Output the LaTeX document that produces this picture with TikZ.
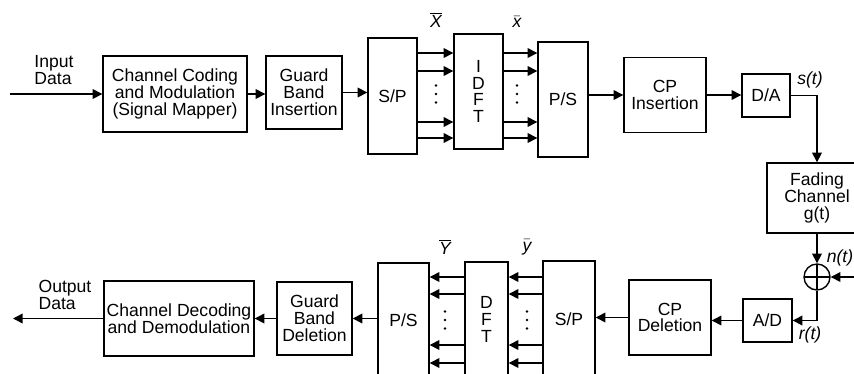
\documentclass[tikz,border=0pt]{standalone}
\usepackage{amsmath}
\usepackage{fontspec}
\setmainfont{Liberation Sans}
\usepackage{tikz}
\usetikzlibrary{positioning,arrows.meta}

\begin{document}
\begin{tikzpicture}[
    x=0.02cm, y=-0.02cm,
    >={Triangle[length=5.5pt,width=5.5pt]},
    font=\fontsize{10}{9.6}\selectfont,
    block/.style={rectangle, draw=black, line width=0.8pt, align=center, inner sep=1pt},
    arrow/.style={->, line width=0.8pt, draw=black},
    sig/.style={font=\fontsize{10}{10}\selectfont\itshape, inner sep=1pt},
    tag/.style={align=left, inner sep=1pt}
]

% Frame
\useasboundingbox (0,0) rectangle (854,373);
\clip (0,0) rectangle (854,373);

% Row 1: Transmitter
\node[block, minimum width=2.88cm, minimum height=1.52cm] (ccm) at (175,94) {Channel Coding\\and Modulation\\(Signal Mapper)};
\node[block, minimum width=1.52cm, minimum height=1.46cm] (gbi) at (304,92.5) {Guard\\Band\\Insertion};
\node[block, minimum width=0.98cm, minimum height=2.32cm] (sp1) at (392.5,96) {S/P};
\node[block, minimum width=0.98cm, minimum height=2.30cm] (idft) at (478.5,91.5) {I\\D\\F\\T};
\node[block, minimum width=1.0cm, minimum height=2.30cm] (ps1) at (563,99.5) {P/S};
\node[block, minimum width=1.64cm, minimum height=1.5cm] (cpi) at (665,95) {CP\\Insertion};
\node[block, minimum width=0.96cm, minimum height=0.86cm] (da) at (766,95.5) {D/A};

% Channel
\node[block, minimum width=2.0cm, minimum height=1.4cm] (fad) at (817,198) {Fading\\Channel\\g(t)};
\node[circle, draw, line width=0.8pt, minimum size=0.52cm, inner sep=0pt,
      path picture={\draw[line width=0.8pt] (path picture bounding box.north) -- (path picture bounding box.south)
                    (path picture bounding box.west) -- (path picture bounding box.east);}] (sum) at (817,277) {};

% Row 2: Receiver
\node[block, minimum width=0.98cm, minimum height=0.86cm] (ad) at (767.5,320.5) {A/D};
\node[block, minimum width=1.64cm, minimum height=1.5cm] (cpd) at (670,317.5) {CP\\Deletion};
\node[block, minimum width=1.04cm, minimum height=2.32cm] (sp2) at (569,319) {S/P};
\node[block, minimum width=0.86cm, minimum height=2.30cm] (dft) at (486.5,319.5) {D\\F\\T};
\node[block, minimum width=1.02cm, minimum height=2.30cm] (ps2) at (403.5,320.5) {P/S};
\node[block, minimum width=1.5cm, minimum height=1.46cm] (gbd) at (314.5,318.5) {Guard\\Band\\Deletion};
\node[block, minimum width=3.0cm, minimum height=1.5cm] (cdd) at (179,318.5) {Channel Decoding\\and Demodulation};

% Labels
\node[tag] (indata) at (54,70) {Input\\Data};
\node[tag] (outdata) at (65,295) {Output\\Data};
\node[sig] (Xbar) at (436,20) {$\overline{\textit{X}}$};
\node[sig] (xbar) at (517,22) {$\bar{\textit{x}}$};
\node[sig] (Ybar) at (445,247) {$\overline{\textit{Y}}$};
\node[sig] (ybar) at (527,247) {$\bar{\textit{y}}$};
\node[sig] (st) at (810,80) {s(t)};
\node[sig] (rt) at (810,335) {r(t)};
\node[sig] (nt) at (840,258) {n(t)};

% Dots between the parallel lines
\foreach \xx/\yy in {436/94, 517/94, 445/320, 527/320}
  \foreach \dd in {-8.5,0,8.5}
    \fill (\xx,\yy+\dd) circle (1.3);

% Free ends
\coordinate (inend) at (10,94);
\coordinate (outend) at (13,318.5);
\coordinate (nend) at (870,277);

% Arrows Row 1
\draw[arrow] (inend) -- (ccm);
\draw[arrow] (ccm.east) -- (ccm.east -| gbi.west);
\draw[arrow] (gbi.east) -- (gbi.east -| sp1.west);
\foreach \yy in {53,71,122,138} {
  \coordinate (lv) at (0,\yy);
  \draw[arrow] (sp1.east |- lv) -- (idft.west |- lv);
  \draw[arrow] (idft.east |- lv) -- (ps1.west |- lv);
}
\draw[arrow] (ps1.east |- cpi.west) -- (cpi.west);
\draw[arrow] (cpi.east) -- (cpi.east -| da.west);

% Arrows through the channel
\draw[arrow] (da.east) -| (fad.north);
\draw[arrow] (fad.south) -- (sum.north);
\draw[arrow] (nend) -- (sum.east);
\draw[arrow] (sum.south) |- (ad.east);

% Arrows Row 2
\draw[arrow] (ad.west) -- (ad.west -| cpd.east);
\draw[arrow] (cpd.west) -- (cpd.west -| sp2.east);
\foreach \yy in {277,294,345,363} {
  \coordinate (lv) at (0,\yy);
  \draw[arrow] (sp2.west |- lv) -- (dft.east |- lv);
  \draw[arrow] (dft.west |- lv) -- (ps2.east |- lv);
}
\draw[arrow] (gbd.east -| ps2.west) -- (gbd.east);
\draw[arrow] (gbd.west) -- (gbd.west -| cdd.east);
\draw[arrow] (cdd.west) -- (outend);

\end{tikzpicture}
\end{document}
